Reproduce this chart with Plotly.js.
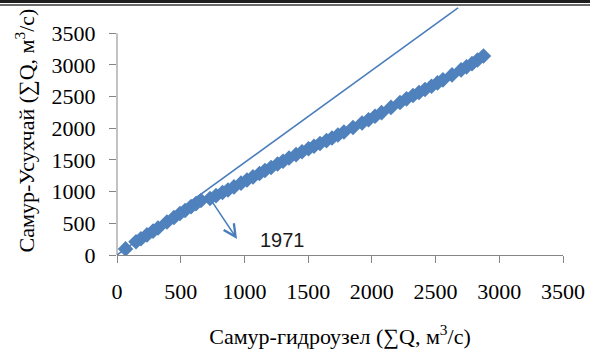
<!DOCTYPE html>
<html>
<head>
<meta charset="utf-8">
<script src="https://cdn.plot.ly/plotly-3.0.1.min.js"></script>
<style>
  html, body { margin: 0; padding: 0; background: #fff; }
  #wrap { position: relative; width: 590px; height: 352px; overflow: hidden; }
  #chart { position: absolute; left: 0; top: 0; width: 590px; height: 352px; }
  .rule1 { position: absolute; left: 0; top: 0; width: 590px; height: 2.5px; background: #1e1e1e; z-index: 5; }
  .rule2 { position: absolute; left: 0; top: 4px; width: 590px; height: 1.5px; background: #6a6a6a; z-index: 5; }
</style>
</head>
<body>
<div id="wrap">
  <div id="chart"></div>
  <div class="rule1"></div>
  <div class="rule2"></div>
</div>
<script>
// Cumulative discharge, Самур-гидроузел (x) vs Самур-Усухчай (y), ∑Q м3/с
const cumHydro = [
  67, 149, 188, 235, 283, 322, 392, 447, 494, 534, 581, 620, 659, 730,
  777, 828, 871, 918, 973, 1020, 1067, 1118, 1161, 1209, 1260, 1303, 1350,
  1405, 1452, 1503, 1546, 1593, 1644, 1687, 1734, 1781, 1852, 1923, 1974,
  2025, 2076, 2150, 2221, 2272, 2323, 2370, 2417, 2468, 2515, 2558, 2629,
  2700, 2743, 2786, 2829, 2876
];
const cumUsukh = [
  96, 208, 257, 317, 377, 426, 521, 592, 654, 703, 763, 811, 860, 892,
  937, 986, 1027, 1075, 1134, 1183, 1233, 1287, 1333, 1382, 1436, 1481, 1531,
  1584, 1629, 1678, 1718, 1760, 1806, 1847, 1895, 1942, 2013, 2084, 2135,
  2191, 2247, 2330, 2408, 2465, 2518, 2566, 2613, 2665, 2717, 2765, 2843,
  2922, 2970, 3021, 3079, 3142
];
// Reference straight line
const refLineX = [0, 2676];
const refLineY = [0, 3900];
// Axis ticks
const tickVals = [0, 500, 1000, 1500, 2000, 2500, 3000, 3500];
const axisMax = 3500;
// Annotation
const breakLabel = "1971";
const breakIndex = 13;
const labelPos = [1295, 237];

const serif = "Liberation Serif";
const axisGray = "#868686";

const traces = [
  {
    type: "scatter", mode: "lines",
    x: refLineX, y: refLineY,
    line: { color: "#4a7ebb", width: 1.6 },
    hoverinfo: "skip", showlegend: false
  },
  {
    type: "scatter", mode: "markers",
    x: cumHydro, y: cumUsukh,
    marker: { symbol: "diamond", size: 12, color: "#4f81bd", line: { width: 0 } },
    showlegend: false
  }
];

const layout = {
  width: 590, height: 352,
  margin: { l: 117, r: 27, t: 6, b: 97, pad: 0 },
  paper_bgcolor: "#ffffff", plot_bgcolor: "#ffffff",
  showlegend: false,
  font: { family: serif },
  xaxis: {
    range: [0, axisMax], tickvals: tickVals, ticktext: tickVals.map(String),
    ticks: "outside", ticklen: 7, tickcolor: axisGray, tickwidth: 1,
    showline: true, linecolor: axisGray, linewidth: 1,
    showgrid: false, zeroline: false,
    tickfont: { family: serif, size: 22, color: "#000" },
    ticklabelstandoff: 10,
    title: { text: "Самур-гидроузел (∑Q, м<sup>3</sup>/с)", font: { family: serif, size: 22, color: "#000" }, standoff: 25 }
  },
  yaxis: {
    range: [0, 3931], tickvals: tickVals, ticktext: tickVals.map(String),
    ticks: "outside", ticklen: 7, tickcolor: axisGray, tickwidth: 1,
    showline: false, showgrid: false, zeroline: false,
    tickfont: { family: serif, size: 22, color: "#000" },
    ticklabelstandoff: 9,
    title: { text: "Самур-Усухчай (∑Q, м<sup>3</sup>/с)", font: { family: serif, size: 22, color: "#000" }, standoff: 10 }
  },
  shapes: [
    { type: "line", xref: "paper", x0: 0, x1: 0, yref: "y", y0: 0, y1: axisMax,
      line: { color: axisGray, width: 1 }, layer: "above" }
  ],
  annotations: [
    { xref: "x", yref: "y", x: cumHydro[breakIndex], y: cumUsukh[breakIndex],
      text: "", showarrow: true, axref: "pixel", ayref: "pixel", ax: 28, ay: 42,
      arrowside: "start", startarrowhead: 5, startarrowsize: 1.6, arrowwidth: 1.5,
      arrowcolor: "#4a7ebb", standoff: 4, startstandoff: 0 },
    { xref: "x", yref: "y", x: labelPos[0], y: labelPos[1], text: breakLabel,
      showarrow: false, font: { family: "Liberation Sans", size: 20, color: "#1a1a1a" } }
  ]
};

Plotly.newPlot("chart", traces, layout, { displayModeBar: false, staticPlot: true });
</script>
</body>
</html>
